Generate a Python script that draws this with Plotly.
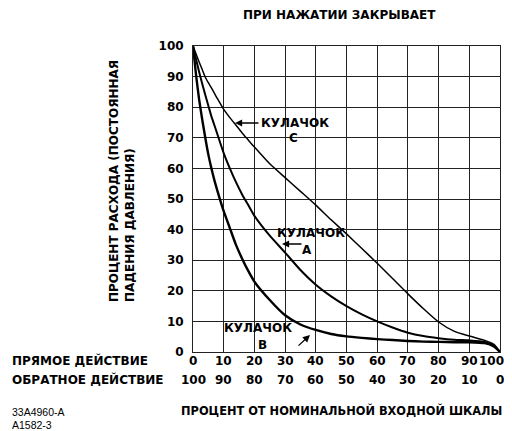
import plotly.graph_objects as go

# ---- data ----
x_pct = [0, 1, 2, 3, 4, 5, 6, 7, 8, 10, 12, 14, 16, 18, 20, 25, 30, 35, 40, 45, 50,
         55, 60, 65, 70, 75, 80, 85, 90, 95, 98, 100]
cam_a = [100, 95.7, 91.5, 87.7, 84, 80.5, 77, 74, 71, 65, 60, 55.5, 51.5, 48, 44.5, 38,
         32.5, 26.8, 22, 18.2, 15, 12.3, 10, 8, 6.3, 5.2, 4.5, 4, 3.8, 3.3, 2, 0]
cam_b = [100, 90.5, 82.5, 76, 70, 64.5, 60, 56, 52.5, 46, 40.5, 35, 30.5, 26.5, 23, 17,
         12, 9, 7.2, 5.9, 5.1, 4.6, 4.2, 3.9, 3.6, 3.4, 3.3, 3.2, 3.2, 2.9, 1.8, 0]
cam_c = [100, 97.4, 94.8, 92.3, 89.8, 88, 86.3, 84.5, 82.7, 79.3, 76.6, 74.1, 71.6, 69.3,
         67, 61.5, 57, 52.5, 48, 43.2, 38.6, 33.8, 29, 24, 19, 14.2, 9.8, 6.8, 5.2, 3.8,
         2.5, 0]

x_ticks = [0, 10, 20, 30, 40, 50, 60, 70, 80, 90, 100]
direct_labels = ["0", "10", "20", "30", "40", "50", "60", "70", "80", "90", "100"]
reverse_labels = ["100", "90", "80", "70", "60", "50", "40", "30", "20", "10", "0"]
y_ticks = [0, 10, 20, 30, 40, 50, 60, 70, 80, 90, 100]

FONT = "DejaVu Sans"
OFF = 8                      # page body margin of the browser
W, H = 512 - OFF, 431 - OFF
L, R, T, B = 193 - OFF, 12, 46 - OFF, 79
PW = W - L - R
PH = H - T - B


def px2paper(px, py):
    """reference-window pixel -> paper coordinates"""
    fx, fy = px - OFF, py - OFF
    return (fx - L) / PW, (H - B - fy) / PH


fig = go.Figure()
for ys, w in ((cam_c, 1.5), (cam_a, 2.0), (cam_b, 2.4)):
    fig.add_trace(go.Scatter(x=x_pct, y=ys, mode="lines",
                             line=dict(color="black", width=w, shape="spline", smoothing=0.6),
                             showlegend=False, hoverinfo="skip"))

bold = dict(family=FONT, size=12, color="black", weight="bold")
lab = dict(family=FONT, size=12, color="black", weight="bold")
xlab = dict(family=FONT, size=11.4, color="black", weight="bold")

fig.update_layout(
    width=W, height=H, margin=dict(l=L, r=R, t=T, b=B),
    plot_bgcolor="white", paper_bgcolor="white",
    xaxis=dict(range=[0, 100], tickvals=x_ticks, showticklabels=False,
               showgrid=True, gridcolor="#222", gridwidth=1, zeroline=False,
               showline=True, linecolor="#222", linewidth=1, mirror=True, ticks=""),
    yaxis=dict(range=[0, 100], tickvals=y_ticks,
               showgrid=True, gridcolor="#222", gridwidth=1, zeroline=False,
               showline=True, linecolor="#222", linewidth=1, mirror=True,
               ticks="", tickfont=bold, ticklabelstandoff=6),
)

ann = []
# direct-action and reverse-action tick label rows
last = x_ticks[-1]
for v, t1, t2 in zip(x_ticks, direct_labels, reverse_labels):
    for t, ys in ((t1, -9), (t2, -28)):
        d = dict(x=v, y=0, xref="x", yref="paper", text=t, showarrow=False,
                 yanchor="middle", yshift=ys, font=bold)
        if v == last and len(t) > 2:
            d.update(xanchor="right", xshift=6)
        ann.append(d)


def text_at(px, py, text, font, xanchor="center", **kw):
    xp, yp = px2paper(px, py)
    d = dict(x=xp, y=yp, xref="paper", yref="paper", text=text, showarrow=False,
             xanchor=xanchor, yanchor="middle", font=font)
    d.update(kw)
    ann.append(d)


text_at(10, 361, "ПРЯМОЕ ДЕЙСТВИЕ", lab, xanchor="left")
text_at(10, 380, "ОБРАТНОЕ ДЕЙСТВИЕ", lab, xanchor="left")
text_at(341, 410, "ПРОЦЕНТ ОТ НОМИНАЛЬНОЙ ВХОДНОЙ ШКАЛЫ", xlab)
text_at(339, 15, "ПРИ НАЖАТИИ ЗАКРЫВАЕТ", lab)
small = dict(family="Liberation Sans", size=10.5, color="black")
text_at(10, 412, "33A4960-A", small, xanchor="left")
text_at(10, 425, "A1582-3", small, xanchor="left")
text_at(122, 181, "ПРОЦЕНТ РАСХОДА (ПОСТОЯННАЯ<br>ПАДЕНИЯ ДАВЛЕНИЯ)", lab,
        textangle=-90, align="left")

# curve labels
text_at(295, 123, "КУЛАЧОК", lab)
text_at(293, 138, "C", lab)
text_at(311, 233, "КУЛАЧОК", lab)
text_at(307, 250, "A", lab)
text_at(258, 328, "КУЛАЧОК", lab)
text_at(262, 345, "B", lab)


def arrow(head, tail):
    hx, hy = px2paper(*head)
    ann.append(dict(x=hx, y=hy, xref="paper", yref="paper",
                    ax=tail[0] - head[0], ay=tail[1] - head[1],
                    axref="pixel", ayref="pixel", text="", showarrow=True,
                    arrowhead=2, arrowsize=1.1, arrowwidth=1.3, arrowcolor="black"))


arrow((235, 123), (260, 123))
arrow((282, 244), (303, 244))
arrow((310, 335), (297, 347))

fig.update_layout(annotations=ann)
fig.write_html("out.html")
